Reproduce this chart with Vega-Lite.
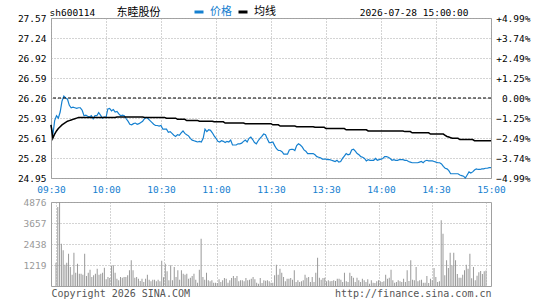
{
  "$schema": "https://vega.github.io/schema/vega-lite/v6.json",
  "padding": {"left": 16, "top": 5, "right": 0, "bottom": 0},
  "background": "white",
  "data": {"values": [
{"t":0,"p":25.82,"a":25.82,"v":1355},
{"t":1,"p":25.65,"a":25.60,"v":4586},
{"t":2,"p":25.89,"a":25.67,"v":4876},
{"t":3,"p":25.97,"a":25.72,"v":2457},
{"t":4,"p":25.93,"a":25.76,"v":2070},
{"t":5,"p":26.03,"a":25.79,"v":1238},
{"t":6,"p":26.21,"a":25.82,"v":1355},
{"t":7,"p":26.29,"a":25.84,"v":1877},
{"t":8,"p":26.26,"a":25.86,"v":1103},
{"t":9,"p":26.24,"a":25.88,"v":658},
{"t":10,"p":26.14,"a":25.89,"v":1935},
{"t":11,"p":26.10,"a":25.90,"v":774},
{"t":12,"p":26.11,"a":25.91,"v":1296},
{"t":13,"p":26.10,"a":25.92,"v":716},
{"t":14,"p":26.09,"a":25.93,"v":716},
{"t":15,"p":26.10,"a":25.94,"v":658},
{"t":16,"p":26.10,"a":25.94,"v":1877},
{"t":17,"p":26.06,"a":25.94,"v":580},
{"t":18,"p":25.97,"a":25.94,"v":774},
{"t":19,"p":25.98,"a":25.94,"v":948},
{"t":20,"p":25.96,"a":25.94,"v":522},
{"t":21,"p":25.95,"a":25.94,"v":619},
{"t":22,"p":25.97,"a":25.94,"v":716},
{"t":23,"p":25.92,"a":25.94,"v":1006},
{"t":24,"p":25.97,"a":25.94,"v":658},
{"t":25,"p":25.97,"a":25.94,"v":716},
{"t":26,"p":26.02,"a":25.94,"v":774},
{"t":27,"p":25.98,"a":25.94,"v":1064},
{"t":28,"p":25.93,"a":25.94,"v":387},
{"t":29,"p":25.95,"a":25.94,"v":522},
{"t":30,"p":25.94,"a":25.94,"v":464},
{"t":31,"p":26.08,"a":25.94,"v":1161},
{"t":32,"p":26.09,"a":25.94,"v":1200},
{"t":33,"p":26.05,"a":25.94,"v":774},
{"t":34,"p":26.07,"a":25.94,"v":426},
{"t":35,"p":26.03,"a":25.94,"v":329},
{"t":36,"p":26.04,"a":25.95,"v":522},
{"t":37,"p":26.00,"a":25.95,"v":484},
{"t":38,"p":25.97,"a":25.95,"v":522},
{"t":39,"p":25.98,"a":25.95,"v":522},
{"t":40,"p":25.97,"a":25.95,"v":619},
{"t":41,"p":25.92,"a":25.95,"v":909},
{"t":42,"p":25.88,"a":25.95,"v":1490},
{"t":43,"p":25.83,"a":25.95,"v":909},
{"t":44,"p":25.82,"a":25.95,"v":484},
{"t":45,"p":25.84,"a":25.95,"v":522},
{"t":46,"p":25.85,"a":25.95,"v":426},
{"t":47,"p":25.83,"a":25.95,"v":290},
{"t":48,"p":25.84,"a":25.95,"v":426},
{"t":49,"p":25.86,"a":25.95,"v":232},
{"t":50,"p":25.88,"a":25.95,"v":426},
{"t":51,"p":25.92,"a":25.94,"v":658},
{"t":52,"p":25.94,"a":25.94,"v":368},
{"t":53,"p":25.92,"a":25.94,"v":271},
{"t":54,"p":25.89,"a":25.94,"v":368},
{"t":55,"p":25.86,"a":25.94,"v":368},
{"t":56,"p":25.83,"a":25.94,"v":271},
{"t":57,"p":25.81,"a":25.94,"v":368},
{"t":58,"p":25.81,"a":25.94,"v":271},
{"t":59,"p":25.80,"a":25.94,"v":1470},
{"t":60,"p":25.81,"a":25.94,"v":503},
{"t":61,"p":25.75,"a":25.94,"v":1296},
{"t":62,"p":25.75,"a":25.94,"v":851},
{"t":63,"p":25.75,"a":25.93,"v":329},
{"t":64,"p":25.70,"a":25.93,"v":1200},
{"t":65,"p":25.71,"a":25.93,"v":329},
{"t":66,"p":25.68,"a":25.93,"v":1103},
{"t":67,"p":25.65,"a":25.93,"v":522},
{"t":68,"p":25.63,"a":25.93,"v":909},
{"t":69,"p":25.66,"a":25.91,"v":368},
{"t":70,"p":25.65,"a":25.91,"v":909},
{"t":71,"p":25.69,"a":25.91,"v":716},
{"t":72,"p":25.72,"a":25.91,"v":658},
{"t":73,"p":25.68,"a":25.91,"v":716},
{"t":74,"p":25.66,"a":25.89,"v":426},
{"t":75,"p":25.64,"a":25.89,"v":484},
{"t":76,"p":25.60,"a":25.89,"v":580},
{"t":77,"p":25.57,"a":25.89,"v":716},
{"t":78,"p":25.56,"a":25.89,"v":368},
{"t":79,"p":25.55,"a":25.89,"v":194},
{"t":80,"p":25.54,"a":25.89,"v":948},
{"t":81,"p":25.55,"a":25.88,"v":2748},
{"t":82,"p":25.54,"a":25.88,"v":522},
{"t":83,"p":25.60,"a":25.88,"v":368},
{"t":84,"p":25.75,"a":25.88,"v":774},
{"t":85,"p":25.71,"a":25.88,"v":329},
{"t":86,"p":25.74,"a":25.88,"v":271},
{"t":87,"p":25.73,"a":25.88,"v":329},
{"t":88,"p":25.69,"a":25.88,"v":194},
{"t":89,"p":25.64,"a":25.87,"v":194},
{"t":90,"p":25.60,"a":25.87,"v":174},
{"t":91,"p":25.55,"a":25.87,"v":387},
{"t":92,"p":25.54,"a":25.87,"v":232},
{"t":93,"p":25.56,"a":25.87,"v":329},
{"t":94,"p":25.55,"a":25.87,"v":464},
{"t":95,"p":25.53,"a":25.85,"v":426},
{"t":96,"p":25.55,"a":25.85,"v":194},
{"t":97,"p":25.54,"a":25.85,"v":329},
{"t":98,"p":25.57,"a":25.85,"v":464},
{"t":99,"p":25.49,"a":25.85,"v":580},
{"t":100,"p":25.49,"a":25.85,"v":464},
{"t":101,"p":25.49,"a":25.85,"v":580},
{"t":102,"p":25.51,"a":25.85,"v":271},
{"t":103,"p":25.51,"a":25.85,"v":329},
{"t":104,"p":25.52,"a":25.85,"v":329},
{"t":105,"p":25.55,"a":25.85,"v":271},
{"t":106,"p":25.57,"a":25.84,"v":464},
{"t":107,"p":25.54,"a":25.84,"v":329},
{"t":108,"p":25.60,"a":25.84,"v":368},
{"t":109,"p":25.62,"a":25.84,"v":426},
{"t":110,"p":25.58,"a":25.84,"v":522},
{"t":111,"p":25.53,"a":25.84,"v":387},
{"t":112,"p":25.51,"a":25.84,"v":194},
{"t":113,"p":25.56,"a":25.84,"v":135},
{"t":114,"p":25.60,"a":25.84,"v":464},
{"t":115,"p":25.63,"a":25.84,"v":174},
{"t":116,"p":25.67,"a":25.84,"v":329},
{"t":117,"p":25.66,"a":25.84,"v":310},
{"t":118,"p":25.59,"a":25.84,"v":329},
{"t":119,"p":25.53,"a":25.84,"v":271},
{"t":120,"p":25.53,"a":25.84,"v":194},
{"t":121,"p":25.54,"a":25.82,"v":194},
{"t":122,"p":25.48,"a":25.82,"v":619},
{"t":123,"p":25.43,"a":25.82,"v":1238},
{"t":124,"p":25.40,"a":25.82,"v":658},
{"t":125,"p":25.40,"a":25.80,"v":1000},
{"t":126,"p":25.38,"a":25.80,"v":774},
{"t":127,"p":25.34,"a":25.80,"v":522},
{"t":128,"p":25.34,"a":25.80,"v":271},
{"t":129,"p":25.34,"a":25.80,"v":426},
{"t":130,"p":25.41,"a":25.80,"v":426},
{"t":131,"p":25.42,"a":25.80,"v":464},
{"t":132,"p":25.42,"a":25.80,"v":368},
{"t":133,"p":25.40,"a":25.80,"v":909},
{"t":134,"p":25.48,"a":25.79,"v":232},
{"t":135,"p":25.51,"a":25.79,"v":329},
{"t":136,"p":25.49,"a":25.79,"v":232},
{"t":137,"p":25.46,"a":25.79,"v":271},
{"t":138,"p":25.41,"a":25.79,"v":329},
{"t":139,"p":25.39,"a":25.79,"v":658},
{"t":140,"p":25.35,"a":25.79,"v":484},
{"t":141,"p":25.35,"a":25.79,"v":522},
{"t":142,"p":25.35,"a":25.79,"v":232},
{"t":143,"p":25.35,"a":25.79,"v":522},
{"t":144,"p":25.33,"a":25.78,"v":232},
{"t":145,"p":25.30,"a":25.78,"v":774},
{"t":146,"p":25.29,"a":25.78,"v":1645},
{"t":147,"p":25.28,"a":25.78,"v":484},
{"t":148,"p":25.26,"a":25.78,"v":368},
{"t":149,"p":25.26,"a":25.78,"v":464},
{"t":150,"p":25.26,"a":25.76,"v":484},
{"t":151,"p":25.25,"a":25.76,"v":271},
{"t":152,"p":25.25,"a":25.76,"v":329},
{"t":153,"p":25.24,"a":25.76,"v":271},
{"t":154,"p":25.23,"a":25.76,"v":290},
{"t":155,"p":25.22,"a":25.76,"v":329},
{"t":156,"p":25.24,"a":25.76,"v":290},
{"t":157,"p":25.21,"a":25.76,"v":426},
{"t":158,"p":25.22,"a":25.76,"v":426},
{"t":159,"p":25.27,"a":25.76,"v":368},
{"t":160,"p":25.31,"a":25.76,"v":232},
{"t":161,"p":25.35,"a":25.74,"v":774},
{"t":162,"p":25.33,"a":25.74,"v":271},
{"t":163,"p":25.34,"a":25.74,"v":232},
{"t":164,"p":25.41,"a":25.74,"v":774},
{"t":165,"p":25.42,"a":25.74,"v":580},
{"t":166,"p":25.39,"a":25.74,"v":484},
{"t":167,"p":25.35,"a":25.74,"v":232},
{"t":168,"p":25.33,"a":25.74,"v":484},
{"t":169,"p":25.30,"a":25.74,"v":329},
{"t":170,"p":25.29,"a":25.74,"v":232},
{"t":171,"p":25.27,"a":25.74,"v":426},
{"t":172,"p":25.23,"a":25.74,"v":329},
{"t":173,"p":25.25,"a":25.72,"v":232},
{"t":174,"p":25.24,"a":25.72,"v":387},
{"t":175,"p":25.24,"a":25.72,"v":135},
{"t":176,"p":25.24,"a":25.72,"v":329},
{"t":177,"p":25.27,"a":25.72,"v":194},
{"t":178,"p":25.24,"a":25.72,"v":174},
{"t":179,"p":25.25,"a":25.72,"v":271},
{"t":180,"p":25.26,"a":25.72,"v":329},
{"t":181,"p":25.27,"a":25.72,"v":271},
{"t":182,"p":25.30,"a":25.72,"v":232},
{"t":183,"p":25.30,"a":25.72,"v":271},
{"t":184,"p":25.29,"a":25.72,"v":658},
{"t":185,"p":25.27,"a":25.72,"v":426},
{"t":186,"p":25.24,"a":25.72,"v":484},
{"t":187,"p":25.25,"a":25.72,"v":948},
{"t":188,"p":25.24,"a":25.72,"v":329},
{"t":189,"p":25.24,"a":25.72,"v":194},
{"t":190,"p":25.25,"a":25.72,"v":232},
{"t":191,"p":25.25,"a":25.72,"v":329},
{"t":192,"p":25.25,"a":25.72,"v":271},
{"t":193,"p":25.24,"a":25.71,"v":232},
{"t":194,"p":25.24,"a":25.71,"v":426},
{"t":195,"p":25.22,"a":25.71,"v":232},
{"t":196,"p":25.21,"a":25.71,"v":909},
{"t":197,"p":25.20,"a":25.69,"v":290},
{"t":198,"p":25.20,"a":25.69,"v":1490},
{"t":199,"p":25.20,"a":25.69,"v":368},
{"t":200,"p":25.20,"a":25.69,"v":329},
{"t":201,"p":25.21,"a":25.69,"v":1103},
{"t":202,"p":25.22,"a":25.69,"v":271},
{"t":203,"p":25.20,"a":25.69,"v":329},
{"t":204,"p":25.23,"a":25.69,"v":368},
{"t":205,"p":25.24,"a":25.69,"v":194},
{"t":206,"p":25.23,"a":25.69,"v":194},
{"t":207,"p":25.23,"a":25.67,"v":580},
{"t":208,"p":25.23,"a":25.67,"v":174},
{"t":209,"p":25.22,"a":25.67,"v":426},
{"t":210,"p":25.21,"a":25.67,"v":329},
{"t":211,"p":25.20,"a":25.67,"v":1045},
{"t":212,"p":25.20,"a":25.67,"v":522},
{"t":213,"p":25.18,"a":25.67,"v":232},
{"t":214,"p":25.14,"a":25.67,"v":271},
{"t":215,"p":25.11,"a":25.65,"v":3812},
{"t":216,"p":25.10,"a":25.63,"v":3038},
{"t":217,"p":25.07,"a":25.62,"v":619},
{"t":218,"p":25.02,"a":25.61,"v":1490},
{"t":219,"p":25.02,"a":25.60,"v":1045},
{"t":220,"p":25.02,"a":25.60,"v":1935},
{"t":221,"p":25.02,"a":25.60,"v":1200},
{"t":222,"p":25.02,"a":25.60,"v":1935},
{"t":223,"p":25.00,"a":25.58,"v":1490},
{"t":224,"p":24.99,"a":25.58,"v":700},
{"t":225,"p":24.98,"a":25.58,"v":484},
{"t":226,"p":24.95,"a":25.58,"v":484},
{"t":227,"p":25.00,"a":25.58,"v":658},
{"t":228,"p":25.05,"a":25.58,"v":909},
{"t":229,"p":25.03,"a":25.58,"v":1238},
{"t":230,"p":25.05,"a":25.58,"v":1006},
{"t":231,"p":25.08,"a":25.56,"v":1877},
{"t":232,"p":25.10,"a":25.56,"v":450},
{"t":233,"p":25.09,"a":25.56,"v":1100},
{"t":234,"p":25.09,"a":25.56,"v":329},
{"t":235,"p":25.10,"a":25.56,"v":600},
{"t":236,"p":25.10,"a":25.56,"v":800},
{"t":237,"p":25.11,"a":25.56,"v":870},
{"t":238,"p":25.11,"a":25.56,"v":700},
{"t":239,"p":25.12,"a":25.56,"v":850},
{"t":240,"p":25.12,"a":25.56,"v":900}
  ]},
  "spacing": 24,
  "bounds": "flush",
  "vconcat": [
    {
      "width": 440,
      "height": 160,
      "layer": [
        {
          "mark": {"type": "line", "strokeWidth": 1.2},
          "encoding": {
            "x": {"field": "t", "type": "quantitative", "title": "东睦股份", "scale": {"domain": [0, 240], "nice": false, "zero": false},
              "axis": {"values": [0, 30, 60, 90, 120, 150, 180, 210, 240],
                "labelExpr": "['09:30','10:00','10:30','11:00','11:30','13:30','14:00','14:30','15:00'][round(datum.value/30)]",
                "labelColor": "#1580d0", "labelPadding": 6, "grid": true,
                "title": "东睦股份", "titleFont": "Noto Sans CJK SC", "titleFontSize": 11, "titleAngle": 0,
                "titleAlign": "left", "titleBaseline": "middle", "titleX": 65, "titleY": -166, "titleColor": "#000000"}},
            "y": {"field": "p", "type": "quantitative", "scale": {"domain": [24.95, 27.57], "nice": false, "zero": false},
              "axis": {"orient": "left", "values": [24.95, 25.2775, 25.605, 25.9325, 26.26, 26.5875, 26.915, 27.2425, 27.57],
                "labelExpr": "format(datum.value + 0.0001, '.2f')", "labelPadding": 5, "grid": true,
                "title": "sh600114", "titleAngle": 0, "titleAlign": "left", "titleBaseline": "middle",
                "titleX": -2, "titleY": -6, "titleColor": "#000000",
                "encode": {"labels": {"update": {"fill": {"signal": "datum.value > 26.27 ? '#ff0000' : (datum.value < 26.25 ? '#1580d0' : '#000000')"}}}}}},
            "color": {"datum": "价格", "type": "nominal",
              "scale": {"domain": ["价格", "均线"], "range": ["#1580d0", "#000000"]},
              "legend": {"orient": "none", "legendX": 142, "legendY": -12, "direction": "horizontal", "title": null,
                "symbolType": "stroke", "symbolStrokeWidth": 3, "symbolSize": 81,
                "labelFont": "Noto Sans CJK SC", "labelFontSize": 11, "labelOffset": 5, "columnPadding": 0, "padding": 0,
                "encode": {"labels": {"update": {"fill": {"signal": "datum.value === '价格' ? '#1580d0' : '#000000'"}}}}}}
          }
        },
        {
          "mark": {"type": "line", "strokeWidth": 1.5},
          "encoding": {
            "x": {"field": "t", "type": "quantitative", "title": "东睦股份", "scale": {"domain": [0, 240], "nice": false, "zero": false},
              "axis": {"values": [0, 30, 60, 90, 120, 150, 180, 210, 240],
                "labelExpr": "['09:30','10:00','10:30','11:00','11:30','13:30','14:00','14:30','15:00'][round(datum.value/30)]",
                "labelColor": "#1580d0", "labelPadding": 6, "grid": true,
                "title": "东睦股份", "titleFont": "Noto Sans CJK SC", "titleFontSize": 11, "titleAngle": 0,
                "titleAlign": "left", "titleBaseline": "middle", "titleX": 65, "titleY": -166, "titleColor": "#000000"}},
            "y": {"field": "a", "type": "quantitative", "scale": {"domain": [24.95, 27.57], "nice": false, "zero": false}, "axis": null},
            "color": {"datum": "均线", "type": "nominal"}
          }
        },
        {
          "data": {"values": [{"prev": 26.26}]},
          "mark": {"type": "rule", "color": "#000000", "strokeDash": [3, 2], "strokeWidth": 1},
          "encoding": {
            "y": {"field": "prev", "type": "quantitative", "scale": {"domain": [24.95, 27.57], "nice": false, "zero": false},
              "axis": {"orient": "right", "values": [24.95, 25.2775, 25.605, 25.9325, 26.26, 26.5875, 26.915, 27.2425, 27.57],
                "labelExpr": "abs(datum.value - 26.26) < 0.005 ? '0.00%' : format((datum.value - 26.26) / 26.26 * 100, '+.2f') + '%'",
                "labelAlign": "right", "labelPadding": 39, "grid": false,
                "title": "2026-07-28 15:00:00", "titleAngle": 0, "titleAlign": "right", "titleBaseline": "middle",
                "titleX": -23, "titleY": -6, "titleColor": "#000000",
                "encode": {"labels": {"update": {"fill": {"signal": "datum.value > 26.27 ? '#ff0000' : (datum.value < 26.25 ? '#1580d0' : '#000000')"}}}}}}
          }
        }
      ],
      "resolve": {"scale": {"y": "independent"}}
    },
    {
      "width": 440,
      "height": 84,
      "layer": [
        {
          "mark": {"type": "bar", "size": 1, "color": "#999999"},
          "encoding": {
            "x": {"field": "t", "type": "quantitative", "title": "Copyright 2026 SINA.COM", "scale": {"domain": [0, 240], "nice": false, "zero": false},
              "axis": {"values": [0, 30, 60, 90, 120, 150, 180, 210, 240], "labels": false, "grid": true,
                "title": "Copyright 2026 SINA.COM", "titleFontSize": 10, "titleColor": "#555555",
                "titleAlign": "left", "titleBaseline": "middle", "titleX": 0, "titleY": 7}},
            "y": {"field": "v", "type": "quantitative", "scale": {"domain": [0, 4876], "nice": false},
              "axis": {"orient": "left", "values": [1219, 2438, 3657, 4876], "format": "d", "labelColor": "#999999", "labelPadding": 5, "grid": true, "title": null}}
          }
        },
        {
          "mark": {"type": "bar", "size": 1, "opacity": 0},
          "encoding": {
            "x": {"field": "t", "type": "quantitative", "title": "Copyright 2026 SINA.COM", "scale": {"domain": [0, 240], "nice": false, "zero": false},
              "axis": {"values": [0, 30, 60, 90, 120, 150, 180, 210, 240], "labels": false, "grid": true,
                "title": "Copyright 2026 SINA.COM", "titleFontSize": 10, "titleColor": "#555555",
                "titleAlign": "left", "titleBaseline": "middle", "titleX": 0, "titleY": 7}},
            "y": {"field": "v", "type": "quantitative", "scale": {"domain": [0, 4876], "nice": false},
              "axis": {"orient": "right", "labels": false, "grid": false,
                "title": "http://finance.sina.com.cn", "titleFontSize": 10, "titleColor": "#555555", "titleAngle": 0,
                "titleAlign": "right", "titleBaseline": "middle", "titleX": 0, "titleY": 91}}
          }
        }
      ],
      "resolve": {"scale": {"y": "independent"}}
    }
  ],
  "config": {
    "view": {"stroke": "#a0a0a0", "strokeWidth": 1},
    "axis": {"ticks": false, "domain": false, "labelFont": "DejaVu Sans Mono", "labelFontSize": 9.5,
      "titleFont": "DejaVu Sans Mono", "titleFontSize": 9.5, "titleFontWeight": "normal",
      "gridColor": "#a8a8a8", "gridDash": [1, 2], "labelFlush": false, "labelOverlap": false, "labelBound": false}
  }
}
